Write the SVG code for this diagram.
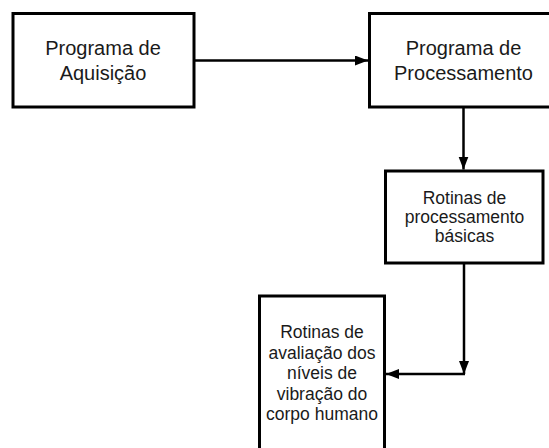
<svg xmlns="http://www.w3.org/2000/svg" width="549" height="448" viewBox="0 0 549 448">
  <style>
    .box { fill: #ffffff; stroke: #000000; stroke-width: 3; }
    .lbl { font-family: "Liberation Sans", Arial, sans-serif; fill: #1a1a1a; text-anchor: middle; }
    .big { font-size: 20px; }
    .small { font-size: 17.5px; }
    .conn { fill: none; stroke: #000000; stroke-width: 2.5; }
  </style>
  <defs>
    <marker id="arrow" markerUnits="userSpaceOnUse" markerWidth="14" markerHeight="12" refX="13" refY="5" orient="auto">
      <path d="M0,0 L13,5 L0,10 Z" fill="#000000"/>
    </marker>
  </defs>
  <rect width="549" height="448" fill="#ffffff"/>
  <g id="connectors">
    <path class="conn" d="M194,60.5 H368" marker-end="url(#arrow)"/>
    <path class="conn" d="M463.5,107 V169.5" marker-end="url(#arrow)"/>
    <path class="conn" d="M464,263 V374"  marker-end="url(#arrow)"/>
    <path class="conn" d="M465,374 H386" marker-end="url(#arrow)"/>
  </g>
  <g id="node-aquisicao">
    <rect class="box" x="13" y="13.5" width="181" height="93.5"/>
    <text class="lbl big" x="103" y="55">Programa de</text>
    <text class="lbl big" x="103" y="80">Aquisição</text>
  </g>
  <g id="node-processamento">
    <rect class="box" x="369.5" y="13.5" width="188" height="93.5"/>
    <text class="lbl big" x="463.5" y="55">Programa de</text>
    <text class="lbl big" x="463.5" y="80">Processamento</text>
  </g>
  <g id="node-rotinas-basicas">
    <rect class="box" x="385.5" y="171" width="157.5" height="92"/>
    <text class="lbl small" x="464.5" y="204">Rotinas de</text>
    <text class="lbl small" x="464.5" y="223">processamento</text>
    <text class="lbl small" x="464.5" y="242">básicas</text>
  </g>
  <g id="node-rotinas-avaliacao">
    <rect class="box" x="259.5" y="296" width="125" height="170"/>
    <text class="lbl small" x="322" y="338">Rotinas de</text>
    <text class="lbl small" x="322" y="358.5">avaliação dos</text>
    <text class="lbl small" x="322" y="379">níveis de</text>
    <text class="lbl small" x="322" y="399.5">vibração do</text>
    <text class="lbl small" x="322" y="420">corpo humano</text>
  </g>
</svg>
